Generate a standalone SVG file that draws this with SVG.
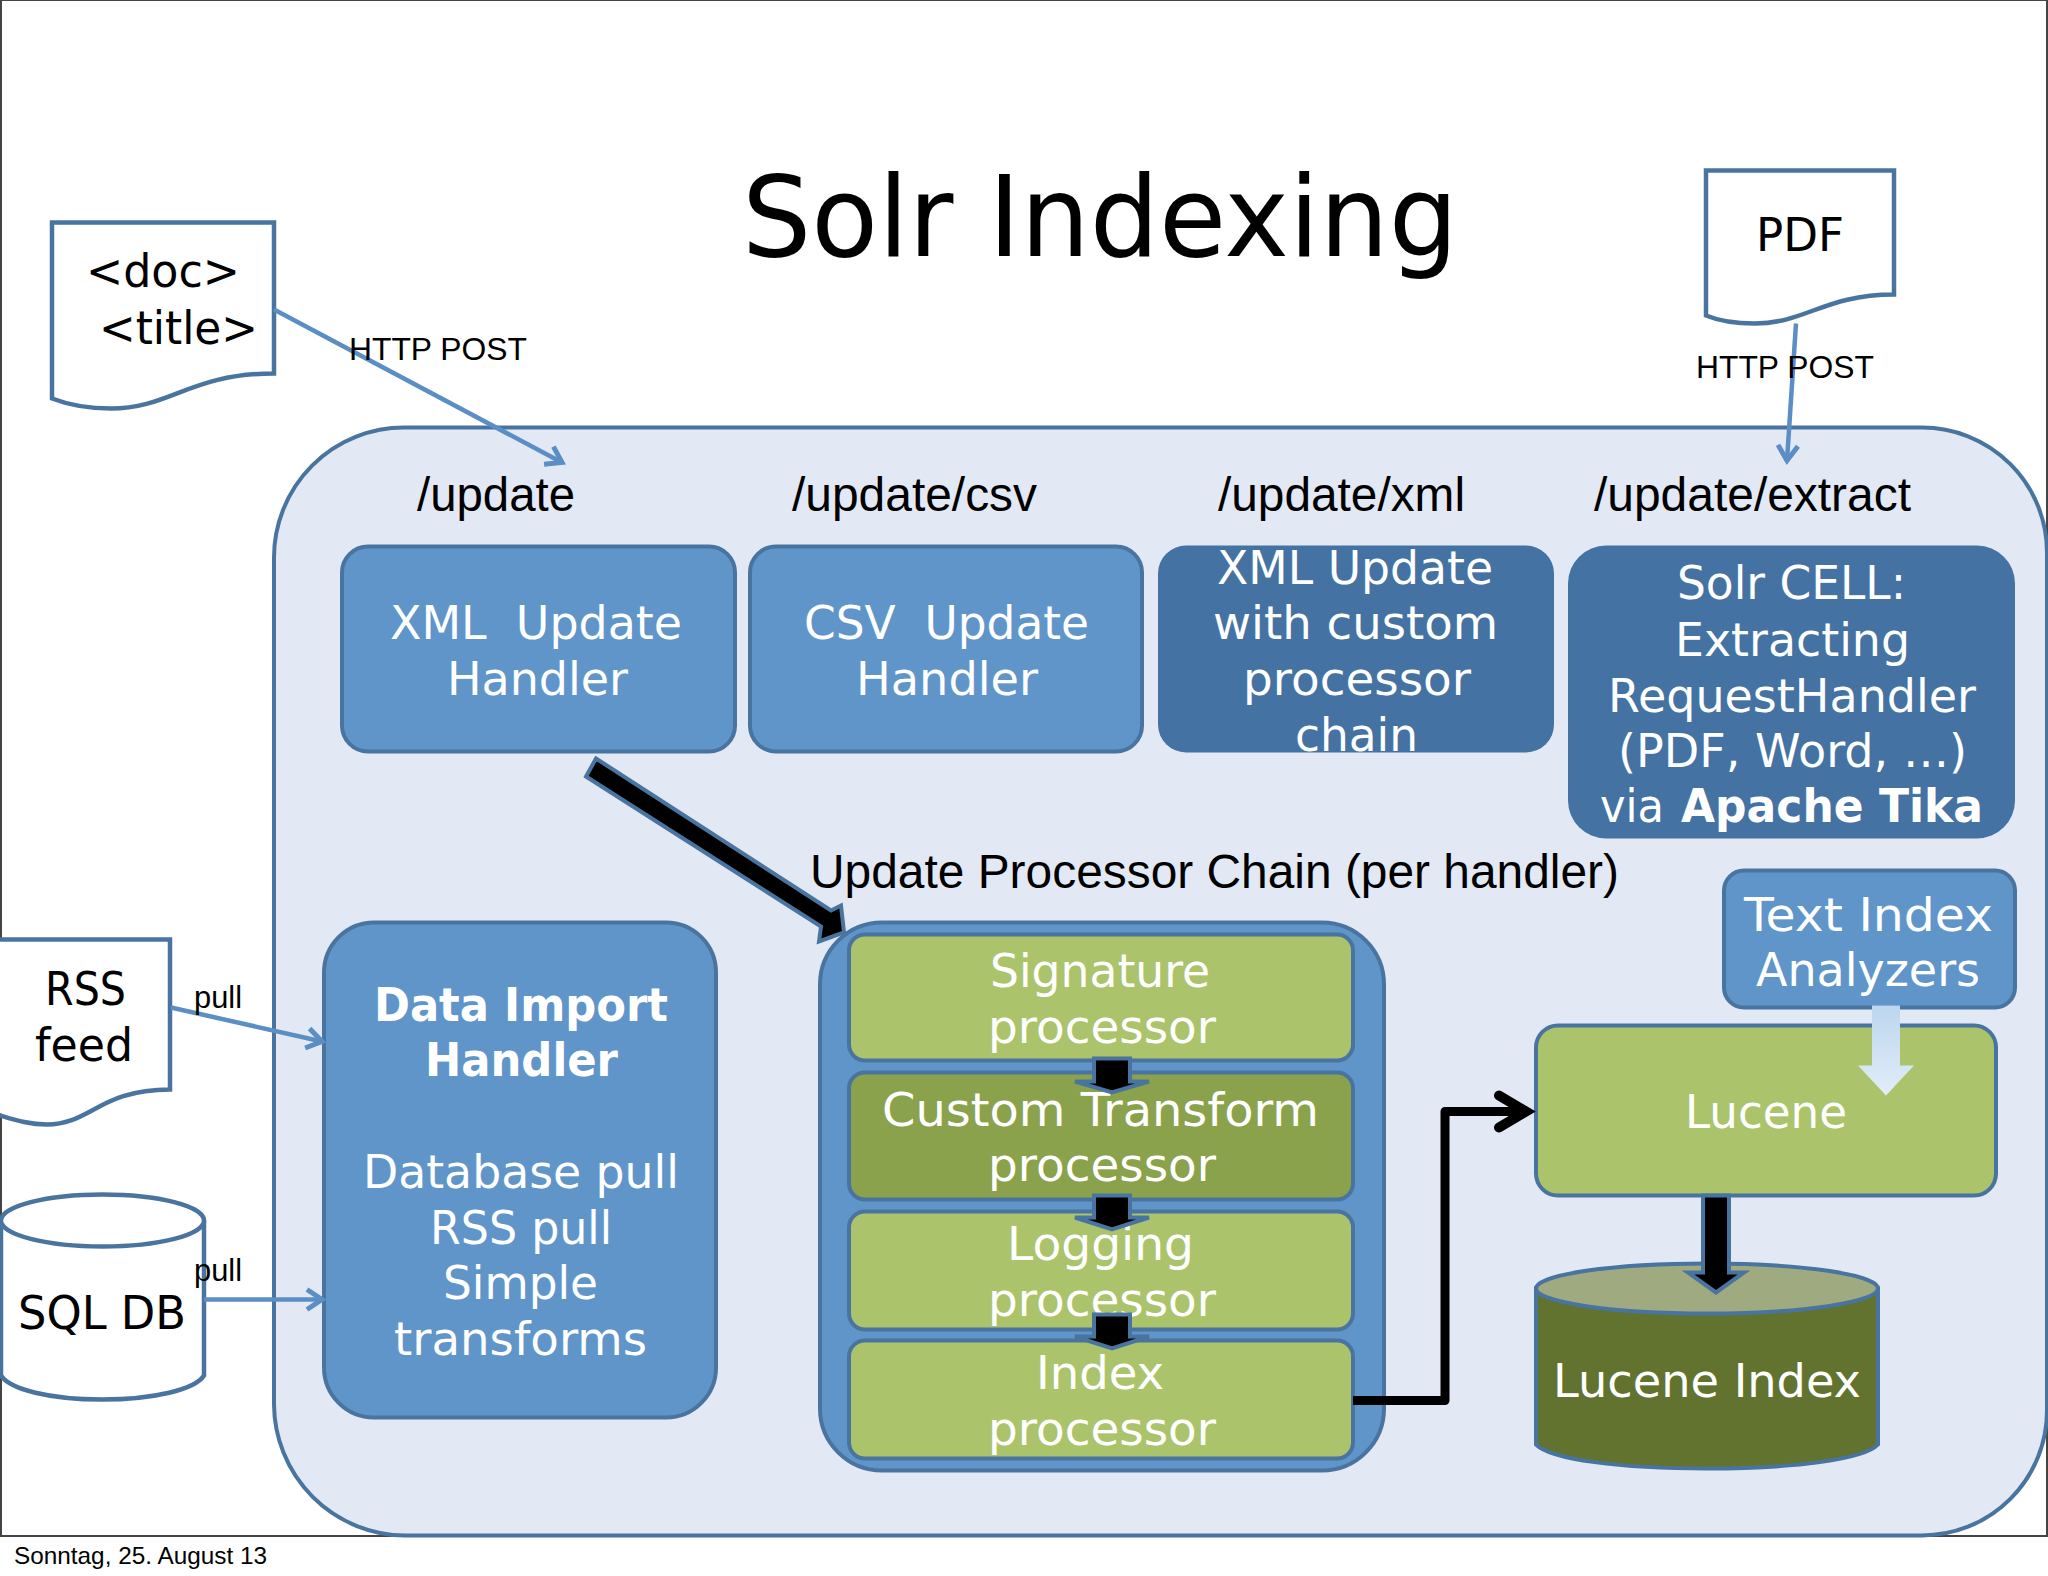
<svg xmlns="http://www.w3.org/2000/svg" width="2048" height="1576" viewBox="0 0 2048 1576">
<style>
text{white-space:pre}
.b{font-family:"DejaVu Sans","Liberation Sans",sans-serif;font-size:47px;fill:#000}
.w{fill:#fff}
.bold{font-weight:700}
.l{font-family:"Liberation Sans",Arial,sans-serif;font-size:48px;fill:#000}
.s{font-size:32px}
.f{font-size:24px}
.box{stroke:#4a74a0;stroke-width:4}
.blue{fill:#6095c9}
.dark{fill:#4472a3}
.green{fill:#abc46c}
.doc{fill:#fff;stroke:#4a74a0;stroke-width:4.500}
.thin{fill:none;stroke:#5b8ec4;stroke-width:4.500}
.block{fill:#000;stroke:#4a74a0;stroke-width:4;stroke-linejoin:miter}
</style>
<defs>
<marker id="open" markerUnits="userSpaceOnUse" markerWidth="30" markerHeight="30" refX="18" refY="15" orient="auto">
<path d="M3 5 L18 15 L3 25" fill="none" stroke="#5b8ec4" stroke-width="5"/>
</marker>
<linearGradient id="light" x1="0" y1="0" x2="0" y2="1">
<stop offset="0" stop-color="#bcd6ef"/><stop offset="1" stop-color="#e2edf8"/>
</linearGradient>
</defs>
<rect x="0" y="0" width="2048" height="1576" fill="#fff"/>
<rect x="1" y="0" width="2046" height="1536" fill="#fff" stroke="#444" stroke-width="2"/>
<g transform="translate(0 1.500)">
<g id="footer"><text class="l f" x="14" y="1562" textLength="253" lengthAdjust="spacingAndGlyphs">Sonntag, 25. August 13</text></g>
<g id="title"><text class="b" style="font-size:113px" x="742" y="254" textLength="716" lengthAdjust="spacingAndGlyphs">Solr Indexing</text></g>

<g id="solr-container">
<path d="M405 1534 A132 132 0 0 1 274 1403 L274 556 A130 130 0 0 1 404 426 L1922 426 A125 125 0 0 1 2047 551 L2047 1409 A125 125 0 0 1 1922 1534 Z" fill="#e2e9f4" stroke="#4a74a0" stroke-width="4"/>
<text class="l" x="417" y="509" textLength="158" lengthAdjust="spacingAndGlyphs">/update</text>
<text class="l" x="792" y="509" textLength="245" lengthAdjust="spacingAndGlyphs">/update/csv</text>
<text class="l" x="1218" y="509" textLength="247" lengthAdjust="spacingAndGlyphs">/update/xml</text>
<text class="l" x="1594" y="509" textLength="317" lengthAdjust="spacingAndGlyphs">/update/extract</text>
<text class="l" x="810" y="886" textLength="809" lengthAdjust="spacingAndGlyphs">Update Processor Chain (per handler)</text>
</g>

<g id="doc-source">
<path class="doc" d="M52 221 L274 221 L274 372 C190 372 170 407 111 407 C85 407 65 402 52 397 Z"/>
<text class="b" x="86" y="285" textLength="154" lengthAdjust="spacingAndGlyphs">&lt;doc&gt;</text>
<text class="b" x="99" y="342" textLength="159" lengthAdjust="spacingAndGlyphs">&lt;title&gt;</text>
</g>
<g id="pdf-source">
<path class="doc" d="M1706 169 L1894 169 L1894 293 C1825 293 1805 322 1755 322 C1735 322 1718 319 1706 314 Z"/>
<text class="b" x="1756" y="249" textLength="88" lengthAdjust="spacingAndGlyphs">PDF</text>
</g>
<g id="rss-source">
<path class="doc" d="M-3 938 L170 938 L170 1088 C100 1088 90 1123 47 1123 C28 1123 14 1118 -3 1113 Z"/>
<text class="b" x="45" y="1003" textLength="81" lengthAdjust="spacingAndGlyphs">RSS</text>
<text class="b" x="35" y="1059" textLength="98" lengthAdjust="spacingAndGlyphs">feed</text>
</g>
<g id="sql-source">
<path d="M1 1219 L1 1374 C10 1388 50 1398 102 1398 C154 1398 195 1388 204 1374 L204 1219" fill="#fff" stroke="#4a74a0" stroke-width="4.500"/>
<ellipse cx="102.500" cy="1219" rx="101.500" ry="26" fill="#fff" stroke="#4a74a0" stroke-width="4.500"/>
<text class="b" x="18" y="1327" textLength="168" lengthAdjust="spacingAndGlyphs">SQL DB</text>
</g>

<g id="xml-handler">
<rect class="box blue" x="342" y="545" width="393" height="205" rx="26"/>
<text class="b w" x="390" y="637" textLength="292" lengthAdjust="spacingAndGlyphs">XML  Update</text>
<text class="b w" x="447" y="693" textLength="181" lengthAdjust="spacingAndGlyphs">Handler</text>
</g>
<g id="csv-handler">
<rect class="box blue" x="750" y="545" width="392" height="205" rx="26"/>
<text class="b w" x="804" y="637" textLength="285" lengthAdjust="spacingAndGlyphs">CSV  Update</text>
<text class="b w" x="856" y="693" textLength="182" lengthAdjust="spacingAndGlyphs">Handler</text>
</g>
<g id="xml-custom">
<rect class="dark" x="1158" y="544" width="396" height="207" rx="28"/>
<text class="b w" x="1217" y="582" textLength="276" lengthAdjust="spacingAndGlyphs">XML Update</text>
<text class="b w" x="1213" y="637" textLength="285" lengthAdjust="spacingAndGlyphs">with custom</text>
<text class="b w" x="1243" y="693" textLength="228" lengthAdjust="spacingAndGlyphs">processor</text>
<text class="b w" x="1295" y="749" textLength="123" lengthAdjust="spacingAndGlyphs">chain</text>
</g>
<g id="solr-cell">
<rect class="dark" x="1568" y="544" width="447" height="293" rx="38"/>
<text class="b w" x="1677" y="597" textLength="229" lengthAdjust="spacingAndGlyphs">Solr CELL:</text>
<text class="b w" x="1675" y="654" textLength="235" lengthAdjust="spacingAndGlyphs">Extracting</text>
<text class="b w" x="1608" y="710" textLength="368" lengthAdjust="spacingAndGlyphs">RequestHandler</text>
<text class="b w" x="1618" y="765" textLength="349" lengthAdjust="spacingAndGlyphs">(PDF, Word, …)</text>
<text class="b w" y="820"><tspan x="1600" textLength="64" lengthAdjust="spacingAndGlyphs">via</tspan> <tspan class="bold" x="1681" textLength="302" lengthAdjust="spacingAndGlyphs">Apache Tika</tspan></text>
</g>
<g id="data-import-handler">
<rect class="box blue" x="324" y="921" width="392" height="495" rx="50"/>
<text class="b w bold" x="374" y="1019" textLength="294" lengthAdjust="spacingAndGlyphs">Data Import</text>
<text class="b w bold" x="425" y="1074" textLength="193" lengthAdjust="spacingAndGlyphs">Handler</text>
<text class="b w" x="363" y="1186" textLength="316" lengthAdjust="spacingAndGlyphs">Database pull</text>
<text class="b w" x="430" y="1242" textLength="182" lengthAdjust="spacingAndGlyphs">RSS pull</text>
<text class="b w" x="443" y="1297" textLength="155" lengthAdjust="spacingAndGlyphs">Simple</text>
<text class="b w" x="394" y="1353" textLength="253" lengthAdjust="spacingAndGlyphs">transforms</text>
</g>
<g id="processor-chain">
<rect class="box blue" x="820" y="921" width="564" height="548" rx="62"/>
</g>
<g id="signature-processor">
<rect class="box green" x="849" y="933" width="504" height="126" rx="16"/>
<text class="b w" x="990" y="985" textLength="220" lengthAdjust="spacingAndGlyphs">Signature</text>
<text class="b w" x="988" y="1041" textLength="228" lengthAdjust="spacingAndGlyphs">processor</text>
</g>
<g id="custom-transform-processor">
<rect class="box" fill="#8ba24c" x="849" y="1071" width="504" height="127" rx="16"/>
<text class="b w" x="882" y="1124" textLength="437" lengthAdjust="spacingAndGlyphs">Custom Transform</text>
<text class="b w" x="988" y="1179" textLength="228" lengthAdjust="spacingAndGlyphs">processor</text>
</g>
<g id="logging-processor">
<rect class="box green" x="849" y="1210" width="504" height="118" rx="16"/>
<text class="b w" x="1007" y="1258" textLength="187" lengthAdjust="spacingAndGlyphs">Logging</text>
<text class="b w" x="988" y="1314" textLength="228" lengthAdjust="spacingAndGlyphs">processor</text>
</g>
<g id="index-processor">
<rect class="box green" x="849" y="1339" width="504" height="118" rx="16"/>
<text class="b w" x="1036" y="1387" textLength="128" lengthAdjust="spacingAndGlyphs">Index</text>
<text class="b w" x="988" y="1443" textLength="228" lengthAdjust="spacingAndGlyphs">processor</text>
</g>
<g id="text-index-analyzers">
<rect class="box blue" x="1724" y="869" width="291" height="137" rx="20"/>
<text class="b w" x="1744" y="929" textLength="249" lengthAdjust="spacingAndGlyphs">Text Index</text>
<text class="b w" x="1756" y="984" textLength="224" lengthAdjust="spacingAndGlyphs">Analyzers</text>
</g>
<g id="lucene">
<rect class="box green" x="1536" y="1024" width="460" height="170" rx="22"/>
<text class="b w" x="1685" y="1126" textLength="162" lengthAdjust="spacingAndGlyphs">Lucene</text>
</g>
<g id="lucene-index">
<path d="M1536 1287 L1536 1443 C1551 1458 1620 1467 1707 1467 C1794 1467 1864 1458 1878 1443 L1878 1287 Z" fill="#62722f" stroke="#4a74a0" stroke-width="4"/>
<ellipse cx="1707" cy="1287" rx="171" ry="25" fill="#a0aa80" stroke="#4a74a0" stroke-width="4"/>
<text class="b w" x="1553" y="1395" textLength="308" lengthAdjust="spacingAndGlyphs">Lucene Index</text>
</g>

<g id="connectors">
<line class="thin" x1="274" y1="308" x2="562" y2="461" marker-end="url(#open)"/>
<line class="thin" x1="1796" y1="322" x2="1787" y2="459" marker-end="url(#open)"/>
<line class="thin" x1="171" y1="1006" x2="322" y2="1040" marker-end="url(#open)"/>
<line class="thin" x1="204" y1="1298" x2="322" y2="1298" marker-end="url(#open)"/>
<polygon class="block" points="596,757 831,909 841,904 844,931 819,940 821,925 586,775"/>
<polygon class="block" points="1094,1057 1130,1057 1130,1080 1149,1080 1112,1091 1075,1080 1094,1080"/>
<polygon class="block" points="1094,1194 1130,1194 1130,1216 1149,1216 1112,1228 1075,1216 1094,1216"/>
<polygon class="block" points="1094,1313 1130,1313 1130,1335 1149,1335 1112,1347 1075,1335 1094,1335"/>
<polygon class="block" points="1703,1194 1729,1194 1729,1271 1744,1271 1716,1291 1688,1271 1703,1271"/>
<polygon points="1872,1004 1900,1004 1900,1064 1914,1064 1886,1094 1858,1064 1872,1064" fill="url(#light)"/>
<path d="M1353 1399 L1445 1399 L1445 1110 L1524 1110" fill="none" stroke="#000" stroke-width="9" stroke-linejoin="round"/>
<path d="M1499 1094 L1526 1110 L1499 1126" fill="none" stroke="#000" stroke-width="10" stroke-linecap="round" stroke-linejoin="miter"/>
</g>
<g id="labels">
<text class="l s" x="349" y="358" textLength="178" lengthAdjust="spacingAndGlyphs">HTTP POST</text>
<text class="l s" x="1696" y="376" textLength="178" lengthAdjust="spacingAndGlyphs">HTTP POST</text>
<text class="l s" x="194" y="1006" textLength="48" lengthAdjust="spacingAndGlyphs">pull</text>
<text class="l s" x="194" y="1279" textLength="48" lengthAdjust="spacingAndGlyphs">pull</text>
</g>
</g>
</svg>
